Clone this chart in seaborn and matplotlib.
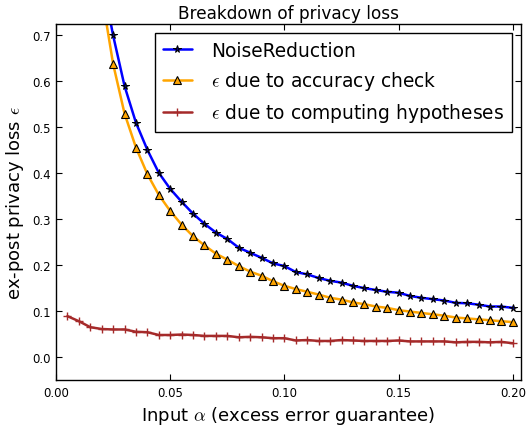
import numpy as np
import pandas as pd
import matplotlib
matplotlib.use("Agg")
import matplotlib.pyplot as plt
import seaborn as sns

# ---- data ----
alpha = [0.005, 0.010, 0.015, 0.020, 0.025, 0.030, 0.035, 0.040, 0.045, 0.050,
         0.055, 0.060, 0.065, 0.070, 0.075, 0.080, 0.085, 0.090, 0.095, 0.100,
         0.105, 0.110, 0.115, 0.120, 0.125, 0.130, 0.135, 0.140, 0.145, 0.150,
         0.155, 0.160, 0.165, 0.170, 0.175, 0.180, 0.185, 0.190, 0.195, 0.200]

noise_reduction = [3.40, 1.70, 1.13, 0.83, 0.700, 0.590, 0.510, 0.451, 0.401, 0.366,
                   0.338, 0.312, 0.290, 0.271, 0.257, 0.238, 0.227, 0.216, 0.204, 0.198,
                   0.185, 0.180, 0.172, 0.166, 0.162, 0.155, 0.150, 0.146, 0.142, 0.140,
                   0.133, 0.129, 0.126, 0.123, 0.118, 0.117, 0.114, 0.110, 0.110, 0.107]

eps_accuracy = [3.20, 1.60, 1.07, 0.79, 0.638, 0.530, 0.456, 0.398, 0.353, 0.318,
                0.288, 0.263, 0.243, 0.225, 0.212, 0.198, 0.186, 0.177, 0.165, 0.155,
                0.148, 0.142, 0.136, 0.129, 0.125, 0.119, 0.115, 0.110, 0.107, 0.102,
                0.099, 0.096, 0.093, 0.090, 0.086, 0.084, 0.082, 0.080, 0.078, 0.076]

eps_hypotheses = [0.089, 0.078, 0.065, 0.061, 0.060, 0.060, 0.055, 0.054, 0.048, 0.048,
                  0.049, 0.048, 0.046, 0.046, 0.046, 0.043, 0.044, 0.043, 0.041, 0.041,
                  0.036, 0.037, 0.035, 0.035, 0.037, 0.036, 0.035, 0.035, 0.035, 0.036,
                  0.034, 0.034, 0.034, 0.034, 0.032, 0.033, 0.033, 0.032, 0.033, 0.030]

labels = ["NoiseReduction",
          r"$\epsilon$ due to accuracy check",
          r"$\epsilon$ due to computing hypotheses"]

x_ticks = [0.00, 0.05, 0.10, 0.15, 0.20]
y_ticks = [0.0, 0.1, 0.2, 0.3, 0.4, 0.5, 0.6, 0.7]

# ---- style ----
sns.set_style("ticks")
plt.rcParams["font.family"] = ["DejaVu Sans"]
plt.rcParams["mathtext.fontset"] = "cm"
plt.rcParams["xtick.direction"] = "in"
plt.rcParams["ytick.direction"] = "in"
for key in ["text.color", "axes.labelcolor", "xtick.color", "ytick.color"]:
    plt.rcParams[key] = "black"

fig = plt.figure(figsize=(5.30, 4.31), dpi=100)
ax = fig.add_axes([0.1057, 0.116, 0.877, 0.826])

df = pd.DataFrame({"alpha": alpha,
                   "nr": noise_reduction,
                   "acc": eps_accuracy,
                   "hyp": eps_hypotheses})

sns.lineplot(data=df, x="alpha", y="nr", ax=ax, color="blue", lw=1.8,
             marker="*", markersize=5.5, markerfacecolor="#000080",
             markeredgecolor="black", markeredgewidth=0.7, label=labels[0])
sns.lineplot(data=df, x="alpha", y="acc", ax=ax, color="orange", lw=1.8,
             marker="^", markersize=5.5, markerfacecolor="orange",
             markeredgecolor="black", markeredgewidth=0.8, label=labels[1])
sns.lineplot(data=df, x="alpha", y="hyp", ax=ax, color="#a52a2a", lw=1.8,
             marker="+", markersize=5.5, markeredgecolor="#a52a2a",
             markeredgewidth=1.0, label=labels[2])

ax.set_xlim(0, 0.2035)
ax.set_ylim(-0.05, 0.725)
ax.set_xticks(x_ticks)
ax.set_xticklabels([f"{v:.2f}" for v in x_ticks])
ax.set_yticks(y_ticks)
ax.set_yticklabels([f"{v:.1f}" for v in y_ticks])
ax.tick_params(axis="both", which="both", direction="in", top=True, right=True,
               length=4, width=0.8, labelsize=8.5, colors="black", pad=4)
for s in ax.spines.values():
    s.set_visible(True)
    s.set_color("black")
    s.set_linewidth(1.0)

ax.set_title("Breakdown of privacy loss", fontsize=12.2, pad=4, color="black")
ax.set_xlabel(r"Input $\alpha$ (excess error guarantee)", fontsize=13, color="black")
ax.set_ylabel(r"ex-post privacy loss $\epsilon$", fontsize=13, color="black")

leg = ax.legend(loc="upper right", fontsize=13.4, frameon=True, fancybox=False,
                edgecolor="black", framealpha=1, handlelength=1.6,
                handletextpad=1.0, labelspacing=0.5, borderpad=0.4,
                borderaxespad=0.5)
leg.get_frame().set_linewidth(1.0)
for t in leg.get_texts():
    t.set_color("black")

fig.savefig("out.png", dpi=100)
